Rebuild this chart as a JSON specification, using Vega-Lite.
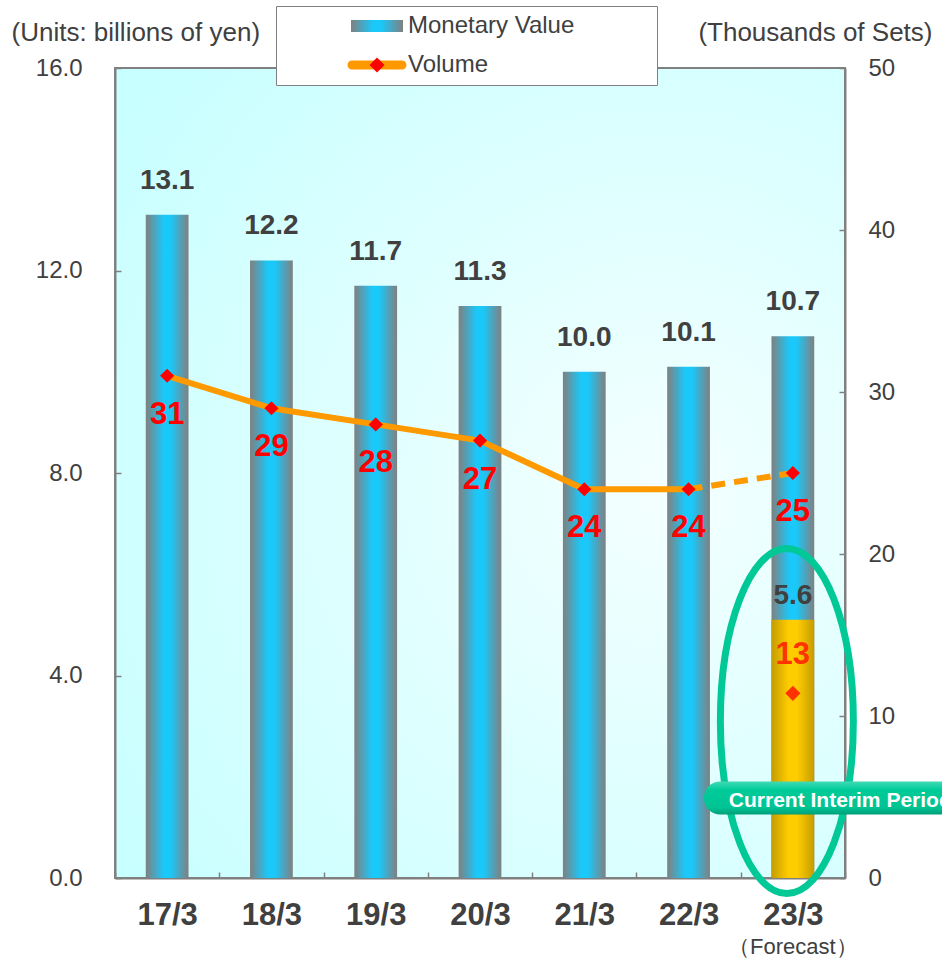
{
  "$schema": "https://vega.github.io/schema/vega-lite/v6.json",
  "width": 730,
  "height": 810,
  "autosize": {"type": "none"},
  "padding": {"left": 115, "top": 68, "right": 97, "bottom": 87},
  "background": "#ffffff",
  "datasets": {
    "annual": [
      {"period": "17/3", "value": 13.1, "volume": 31},
      {"period": "18/3", "value": 12.2, "volume": 29},
      {"period": "19/3", "value": 11.7, "volume": 28},
      {"period": "20/3", "value": 11.3, "volume": 27},
      {"period": "21/3", "value": 10.0, "volume": 24},
      {"period": "22/3", "value": 10.1, "volume": 24},
      {"period": "23/3", "value": 10.7, "volume": 25}
    ],
    "interim": [
      {"period": "23/3", "value": 5.6, "volume": 13, "bar_drawn": 5.1, "marker_drawn": 11.4}
    ]
  },
  "data": {"name": "annual"},
  "encoding": {
    "x": {
      "field": "period", "type": "nominal", "sort": null,
      "scale": {"domain": ["17/3", "18/3", "19/3", "20/3", "21/3", "22/3", "23/3"], "paddingInner": 0, "paddingOuter": 0},
      "axis": {
        "title": null, "labelAngle": 0, "labelFont": "Liberation Sans", "labelFontSize": 31, "labelFontWeight": "bold",
        "labelColor": "#404040", "labelPadding": 28, "tickSize": -6, "tickColor": "#808080", "tickWidth": 1.5,
        "tickBand": "extent", "domainColor": "#808080", "domainWidth": 2, "grid": false
      }
    }
  },
  "layer": [
    {
      "mark": {"type": "point", "filled": true, "opacity": 0, "strokeWidth": 0},
      "encoding": {
        "y": {"field": "volume", "type": "quantitative", "scale": {"domain": [0, 50]}, "axis": null},
        "fill": {
          "datum": "Monetary Value", "type": "nominal",
          "scale": {"domain": ["Monetary Value", "Volume"], "range": ["#34bce6", "#ff9900"]},
          "legend": {
            "orient": "none", "legendX": 161, "legendY": -62, "padding": 8,
            "title": "MMM", "titleOrient": "right", "titleColor": "transparent", "titleFont": "Liberation Sans", "titleFontSize": 24, "titleFontWeight": "normal", "titlePadding": 15,
            "fillColor": "#ffffff", "strokeColor": "#808080", "labelFont": "Liberation Sans", "labelFontSize": 24,
            "labelColor": "#404040", "labelLimit": 400, "rowPadding": 15, "symbolSize": 400, "symbolStrokeWidth": 0,
            "symbolStrokeColor": "transparent", "symbolOpacity": 1, "symbolOffset": 81, "labelOffset": 19
          }
        },
        "shape": {
          "datum": "Monetary Value", "type": "nominal",
          "scale": {"domain": ["Monetary Value", "Volume"], "range": ["M-2.6,-0.6H2.6V0.6H-2.6Z", "M-2.5,-0.45H2.5A0.45,0.45 0 0 1 2.5,0.45H-2.5A0.45,0.45 0 0 1 -2.5,-0.45Z"]},
          "legend": {
            "orient": "none", "legendX": 161, "legendY": -62, "padding": 8,
            "title": "MMM", "titleOrient": "right", "titleColor": "transparent", "titleFont": "Liberation Sans", "titleFontSize": 24, "titleFontWeight": "normal", "titlePadding": 15,
            "fillColor": "#ffffff", "strokeColor": "#808080", "labelFont": "Liberation Sans", "labelFontSize": 24,
            "labelColor": "#404040", "labelLimit": 400, "rowPadding": 15, "symbolSize": 400, "symbolStrokeWidth": 0,
            "symbolStrokeColor": "transparent", "symbolOpacity": 1, "symbolOffset": 81, "labelOffset": 19
          }
        }
      }
    },
    {
      "mark": {"type": "bar", "width": {"band": 0.41}, "strokeWidth": 0,
        "fill": {"gradient": "linear", "x1": 0, "y1": 0, "x2": 1, "y2": 0, "stops": [
          {"offset": 0, "color": "#808080"}, {"offset": 0.42, "color": "#1ac8fa"},
          {"offset": 0.58, "color": "#1ac8fa"}, {"offset": 1, "color": "#808080"}]}},
      "encoding": {
        "y": {
          "field": "value", "type": "quantitative", "scale": {"domain": [0, 16]},
          "axis": {
            "orient": "left", "title": "(Units: billions of yen)", "titleAngle": 0, "titleAlign": "left", "titleBaseline": "middle",
            "titleX": -104, "titleY": -36, "titleFont": "Liberation Sans", "titleFontSize": 26, "titleFontWeight": "normal",
            "titleColor": "#404040", "values": [0, 4, 8, 12, 16], "format": ".1f", "labelFont": "Liberation Sans",
            "labelFontSize": 24, "labelColor": "#404040", "labelPadding": 39, "tickSize": -6, "tickColor": "#808080",
            "tickWidth": 1.5, "domainColor": "#808080", "domainWidth": 2, "grid": false
          }
        },
        "opacity": {
          "datum": "Monetary Value", "type": "ordinal",
          "scale": {"domain": ["Monetary Value"], "range": [1]},
          "legend": {
            "orient": "none", "legendX": 161, "legendY": -62, "title": null, "padding": 8,
            "labelFont": "Liberation Sans", "labelFontSize": 24, "labelOpacity": 0, "labelLimit": 400,
            "symbolType": "M-2.6,-0.6H2.6V0.6H-2.6Z", "symbolSize": 400, "symbolStrokeWidth": 0,
            "symbolStrokeColor": "transparent", "symbolOpacity": 1, "symbolOffset": 81, "labelOffset": 19
          }
        }
      }
    },
    {
      "data": {"name": "interim"},
      "mark": {"type": "bar", "width": {"band": 0.41}, "strokeWidth": 0,
        "fill": {"gradient": "linear", "x1": 0, "y1": 0, "x2": 1, "y2": 0, "stops": [
          {"offset": 0, "color": "#c49c00"}, {"offset": 0.4, "color": "#ffcc00"},
          {"offset": 0.6, "color": "#ffcc00"}, {"offset": 1, "color": "#c49c00"}]}},
      "encoding": {"y": {"field": "bar_drawn", "type": "quantitative", "scale": {"domain": [0, 16]}, "axis": null}}
    },
    {
      "mark": {"type": "text", "dy": -34, "font": "Liberation Sans", "fontSize": 28, "fontWeight": "bold", "color": "#404040", "baseline": "middle"},
      "encoding": {
        "y": {"field": "value", "type": "quantitative", "scale": {"domain": [0, 16]}, "axis": null},
        "text": {"field": "value", "type": "quantitative", "format": ".1f"}
      }
    },
    {
      "data": {"name": "interim"},
      "mark": {"type": "text", "dy": -24, "font": "Liberation Sans", "fontSize": 28, "fontWeight": "bold", "color": "#404040", "baseline": "middle"},
      "encoding": {
        "y": {"field": "bar_drawn", "type": "quantitative", "scale": {"domain": [0, 16]}, "axis": null},
        "text": {"field": "value", "type": "quantitative", "format": ".1f"}
      }
    },
    {
      "transform": [{"filter": "datum.period !== '23/3'"}],
      "mark": {"type": "line", "color": "#ff9900", "strokeWidth": 6, "strokeCap": "round", "strokeJoin": "round"},
      "encoding": {
        "y": {
          "field": "volume", "type": "quantitative", "scale": {"domain": [0, 50]},
          "axis": {
            "orient": "right", "title": "(Thousands of Sets)", "titleAngle": 0, "titleAlign": "right", "titleBaseline": "middle",
            "titleX": 87, "titleY": -36, "titleFont": "Liberation Sans", "titleFontSize": 26, "titleFontWeight": "normal",
            "titleColor": "#404040", "values": [0, 10, 20, 30, 40, 50], "format": "d", "labelFont": "Liberation Sans",
            "labelFontSize": 24, "labelColor": "#404040", "labelPadding": 29, "tickSize": -6, "tickColor": "#808080",
            "tickWidth": 1.5, "domainColor": "#808080", "domainWidth": 2, "grid": false
          }
        }
      }
    },
    {
      "transform": [{"filter": "datum.period === '22/3' || datum.period === '23/3'"}],
      "mark": {"type": "line", "color": "#ff9900", "strokeWidth": 6, "strokeDash": [14, 9]},
      "encoding": {"y": {"field": "volume", "type": "quantitative", "scale": {"domain": [0, 50]}, "axis": null}}
    },
    {
      "mark": {"type": "point", "shape": "diamond", "filled": true, "color": "#ff0000", "size": 200, "opacity": 1, "strokeWidth": 0},
      "encoding": {
        "y": {"field": "volume", "type": "quantitative", "scale": {"domain": [0, 50]}, "axis": null},
        "stroke": {
          "datum": "Volume", "type": "nominal",
          "scale": {"domain": ["Volume"], "range": ["#ff0000"]},
          "legend": {
            "orient": "none", "legendX": 161, "legendY": -23, "title": null, "padding": 8,
            "labelFont": "Liberation Sans", "labelFontSize": 24, "labelOpacity": 0, "labelLimit": 400,
            "symbolType": "diamond", "symbolSize": 225, "symbolStrokeWidth": 0, "symbolFillColor": "#ff0000",
            "symbolStrokeColor": "transparent", "symbolOpacity": 1, "symbolOffset": 81, "labelOffset": 19
          }
        }
      }
    },
    {
      "mark": {"type": "text", "dy": 39, "font": "Liberation Sans", "fontSize": 31, "fontWeight": "bold", "color": "#ff0000", "baseline": "middle"},
      "encoding": {
        "y": {"field": "volume", "type": "quantitative", "scale": {"domain": [0, 50]}, "axis": null},
        "text": {"field": "volume", "type": "quantitative"}
      }
    },
    {
      "data": {"name": "interim"},
      "mark": {"type": "point", "shape": "diamond", "filled": true, "color": "#ff3300", "size": 230, "opacity": 1, "strokeWidth": 0},
      "encoding": {"y": {"field": "marker_drawn", "type": "quantitative", "scale": {"domain": [0, 50]}, "axis": null}}
    },
    {
      "data": {"name": "interim"},
      "mark": {"type": "text", "dy": -38, "font": "Liberation Sans", "fontSize": 31, "fontWeight": "bold", "color": "#ff3300", "baseline": "middle"},
      "encoding": {
        "y": {"field": "marker_drawn", "type": "quantitative", "scale": {"domain": [0, 50]}, "axis": null},
        "text": {"field": "volume", "type": "quantitative"}
      }
    },
    {
      "data": {"name": "interim"},
      "mark": {"type": "point", "shape": "M-0.725,0A0.665,1.725 0 1 0 0.605,0A0.665,1.725 0 1 0 -0.725,0Z", "size": 40000, "filled": false, "stroke": "#00c896", "strokeWidth": 7, "opacity": 1},
      "encoding": {"y": {"datum": 3.1, "type": "quantitative", "scale": {"domain": [0, 16]}, "axis": null}}
    },
    {
      "data": {"name": "interim"},
      "mark": {"type": "point", "shape": "M-0.725,-0.165H2.2V0.165H-0.725A0.165,0.165 0 0 1 -0.725,-0.165Z", "size": 40000, "filled": true, "strokeWidth": 0, "opacity": 1,
        "fill": {"gradient": "linear", "x1": 0, "y1": 0, "x2": 0, "y2": 1, "stops": [
          {"offset": 0, "color": "#40dab4"}, {"offset": 0.25, "color": "#00cc99"},
          {"offset": 0.8, "color": "#00c393"}, {"offset": 1, "color": "#009e78"}]}},
      "encoding": {"y": {"datum": 1.58, "type": "quantitative", "scale": {"domain": [0, 16]}, "axis": null}}
    },
    {
      "data": {"name": "interim"},
      "mark": {"type": "text", "align": "left", "baseline": "middle", "dx": -64, "font": "Liberation Sans", "fontSize": 21, "fontWeight": "bold", "color": "#ffffff", "text": "Current Interim Period"},
      "encoding": {"y": {"datum": 1.52, "type": "quantitative", "scale": {"domain": [0, 16]}, "axis": null}}
    },
    {
      "data": {"name": "interim"},
      "mark": {"type": "text", "baseline": "middle", "dy": 69, "font": "Liberation Sans", "fontSize": 22, "color": "#404040", "text": "（Forecast）"},
      "encoding": {"y": {"datum": 0, "type": "quantitative", "scale": {"domain": [0, 16]}, "axis": null}}
    }
  ],
  "resolve": {"scale": {"y": "independent"}},
  "config": {
    "font": "Liberation Sans",
    "view": {
      "fill": {"gradient": "radial", "x1": 0.72, "y1": 0.52, "r1": 0, "x2": 0.72, "y2": 0.52, "r2": 0.8,
        "stops": [{"offset": 0, "color": "#f4ffff"}, {"offset": 1, "color": "#c8ffff"}]},
      "stroke": "#808080",
      "strokeWidth": 2
    }
  }
}
